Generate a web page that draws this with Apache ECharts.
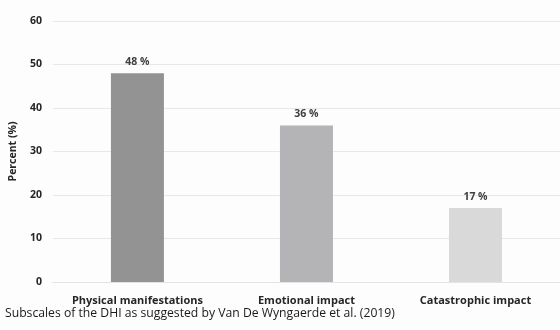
<!DOCTYPE html>
<html>
<head>
<meta charset="utf-8">
<script src="https://cdn.jsdelivr.net/npm/echarts@6/dist/echarts.min.js"></script>
<style>
  html, body { margin: 0; padding: 0; background: #fdfdfd; }
  #chart { width: 560px; height: 330px; }
</style>
</head>
<body>
<div id="chart"></div>
<script>
// DHI subscale shares
const categories = ['Physical manifestations', 'Emotional impact', 'Catastrophic impact'];
const percentValues = [48, 36, 17];
const barColors = ['#939394', '#b4b4b6', '#d9d9da'];
const yTicks = [0, 10, 20, 30, 40, 50, 60];

const chart = echarts.init(document.getElementById('chart'), null, { renderer: 'canvas' });

const font = '"Open Sans", "DejaVu Sans", sans-serif';

chart.setOption({
  backgroundColor: '#fdfdfd',
  animation: false,
  grid: { left: 52, right: -2, top: 21, bottom: 48, containLabel: false },
  xAxis: {
    type: 'category',
    data: categories,
    axisLine: { show: true, lineStyle: { color: '#e4e4e4', width: 1 } },
    axisTick: { show: false },
    axisLabel: {
      interval: 0,
      color: '#262626',
      fontFamily: font,
      fontWeight: 'bold',
      fontSize: 11,
      margin: 13
    }
  },
  yAxis: {
    type: 'value',
    min: yTicks[0],
    max: yTicks[yTicks.length - 1],
    interval: 10,
    name: 'Percent (%)',
    nameLocation: 'middle',
    nameGap: 26,
    nameRotate: 90,
    nameTextStyle: { color: '#262626', fontFamily: font, fontWeight: 'bold', fontSize: 10.5 },
    axisLine: { show: false },
    axisTick: { show: false },
    axisLabel: { color: '#262626', fontFamily: font, fontWeight: 'bold', fontSize: 10.5, margin: 11 },
    splitLine: { lineStyle: { color: '#e8e8e8', width: 1 } }
  },
  series: [{
    type: 'bar',
    data: percentValues.map((v, i) => ({ value: v, itemStyle: { color: barColors[i] } })),
    barWidth: 53,
    label: {
      show: true,
      position: 'top',
      distance: 6,
      formatter: p => p.value + ' %',
      color: '#404040',
      fontFamily: font,
      fontWeight: 'bold',
      fontSize: 10.5
    }
  }],
  graphic: [{
    type: 'text',
    left: 5,
    top: 308,
    style: {
      text: 'Subscales of the DHI as suggested by Van De Wyngaerde et al. (2019)',
      fill: '#1a1a1a',
      font: '12.2px ' + font
    }
  }]
});
</script>
</body>
</html>
